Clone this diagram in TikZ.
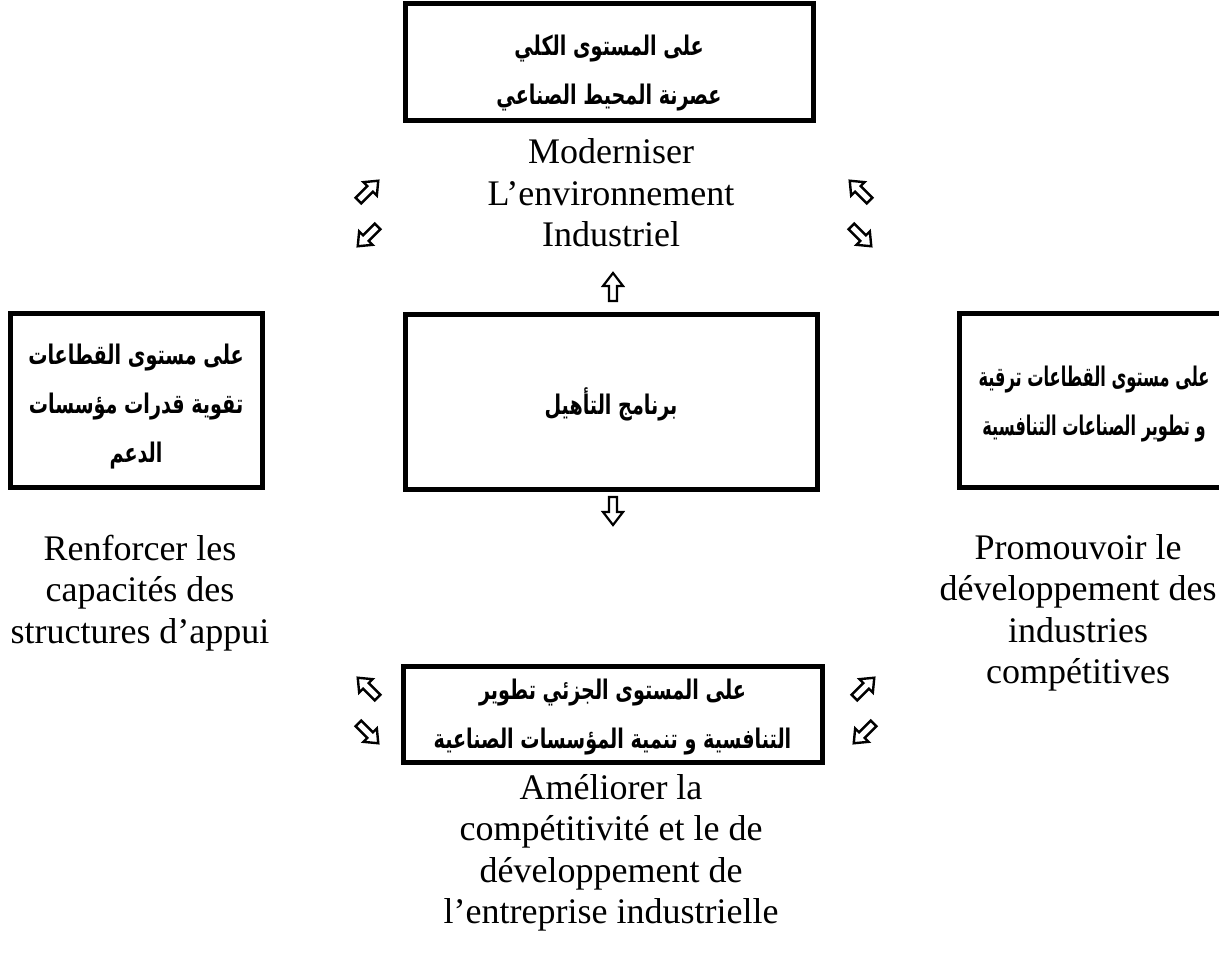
\documentclass[tikz,border=0pt]{standalone}
\usepackage{fontspec}
\setmainfont{Liberation Serif}
\newfontfamily\arabicfont[Script=Arabic,FakeStretch=0.71]{DejaVu Sans}
\newfontfamily\arabicnarrow[Script=Arabic,FakeStretch=0.6]{DejaVu Sans}
\TeXXeTstate=1
\begin{document}
\begin{tikzpicture}[x=0.5pt,y=-0.5pt,
  box/.style={draw, line width=2.5pt, inner sep=0pt},
  ar/.style={align=center, inner sep=0pt, font=\arabicfont\bfseries\fontsize{13.5pt}{24.5pt}\selectfont},
  arnarrow/.style={ar, font=\arabicnarrow\bfseries\fontsize{13.5pt}{24.5pt}\selectfont},
  en/.style={align=center, inner sep=0pt, font=\fontsize{18pt}{20.75pt}\selectfont},
  blockarrow/.pic={
    \draw[line width=1.1pt, line join=miter, x=0.5pt, y=0.5pt]
      (0,14) -- (10,1) -- (4,1) -- (4,-14) -- (-4,-14) -- (-4,1) -- (-10,1) -- cycle;
  },
  diagarrow/.pic={
    \draw[line width=1.2pt, line join=miter, x=0.5pt, y=0.5pt]
      (0,14.5) -- (9.5,3) -- (4,3) -- (4,-13.5) -- (-4,-13.5) -- (-4,3) -- (-9.5,3) -- cycle;
  }
]
\useasboundingbox (0,0) rectangle (1219,961);
\clip (0,0) rectangle (1219,961);

% frames
\node[box, minimum width=204pt, minimum height=58.5pt] (macro) at (609,62.5) {};
\node[box, minimum width=206pt, minimum height=87.5pt] (prog) at (611,402) {};
\node[box, minimum width=126pt, minimum height=87pt] (sect) at (136,401) {};
\node[box, minimum width=133pt, minimum height=87pt] (indus) at (1092,401) {};
\node[box, minimum width=209.5pt, minimum height=48pt] (micro) at (612.5,714) {};

% Arabic captions inside the frames
\node[ar] (macroAr) at (609,73)
  {\beginR على المستوى الكلي\endR\\\beginR عصرنة المحيط الصناعي\endR};
\node[ar] (progAr) at (611,404) {\beginR برنامج التأهيل\endR};
\node[ar] (sectAr) at (136,407)
  {\beginR على مستوى القطاعات\endR\\\beginR تقوية قدرات مؤسسات\endR\\\beginR الدعم\endR};
\node[arnarrow] (indusAr) at (1094,404)
  {\beginR على مستوى القطاعات ترقية\endR\\\beginR و تطوير الصناعات التنافسية\endR};
\node[ar] (microAr) at (612.5,717)
  {\beginR على المستوى الجزئي تطوير\endR\\\beginR التنافسية و تنمية المؤسسات الصناعية\endR};

% French captions
\node[en] (macroEn) at (611,193) {Moderniser\\L’environnement\\Industriel};
\node[en] (sectEn) at (140,593) {Renforcer les\\capacités des\\structures d’appui};
\node[en] (indusEn) at (1078,613) {Promouvoir le\\développement des\\industries\\compétitives};
\node[en] (microEn) at (611,853) {Améliorer la\\compétitivité et le de\\développement de\\l’entreprise industrielle};

% outlined arrows
\pic (up) at (613,287) {blockarrow};
\pic[rotate=180] (down) at (613,511) {blockarrow};
\pic[rotate=-45] (tl1) at (368,191) {diagarrow};
\pic[rotate=135] (tl2) at (368,236) {diagarrow};
\pic[rotate=45] (tr1) at (860,191) {diagarrow};
\pic[rotate=-135] (tr2) at (861,236) {diagarrow};
\pic[rotate=45] (bl1) at (368,688) {diagarrow};
\pic[rotate=-135] (bl2) at (368,733) {diagarrow};
\pic[rotate=-45] (br1) at (864,688) {diagarrow};
\pic[rotate=135] (br2) at (864,733) {diagarrow};
\end{tikzpicture}
\end{document}
